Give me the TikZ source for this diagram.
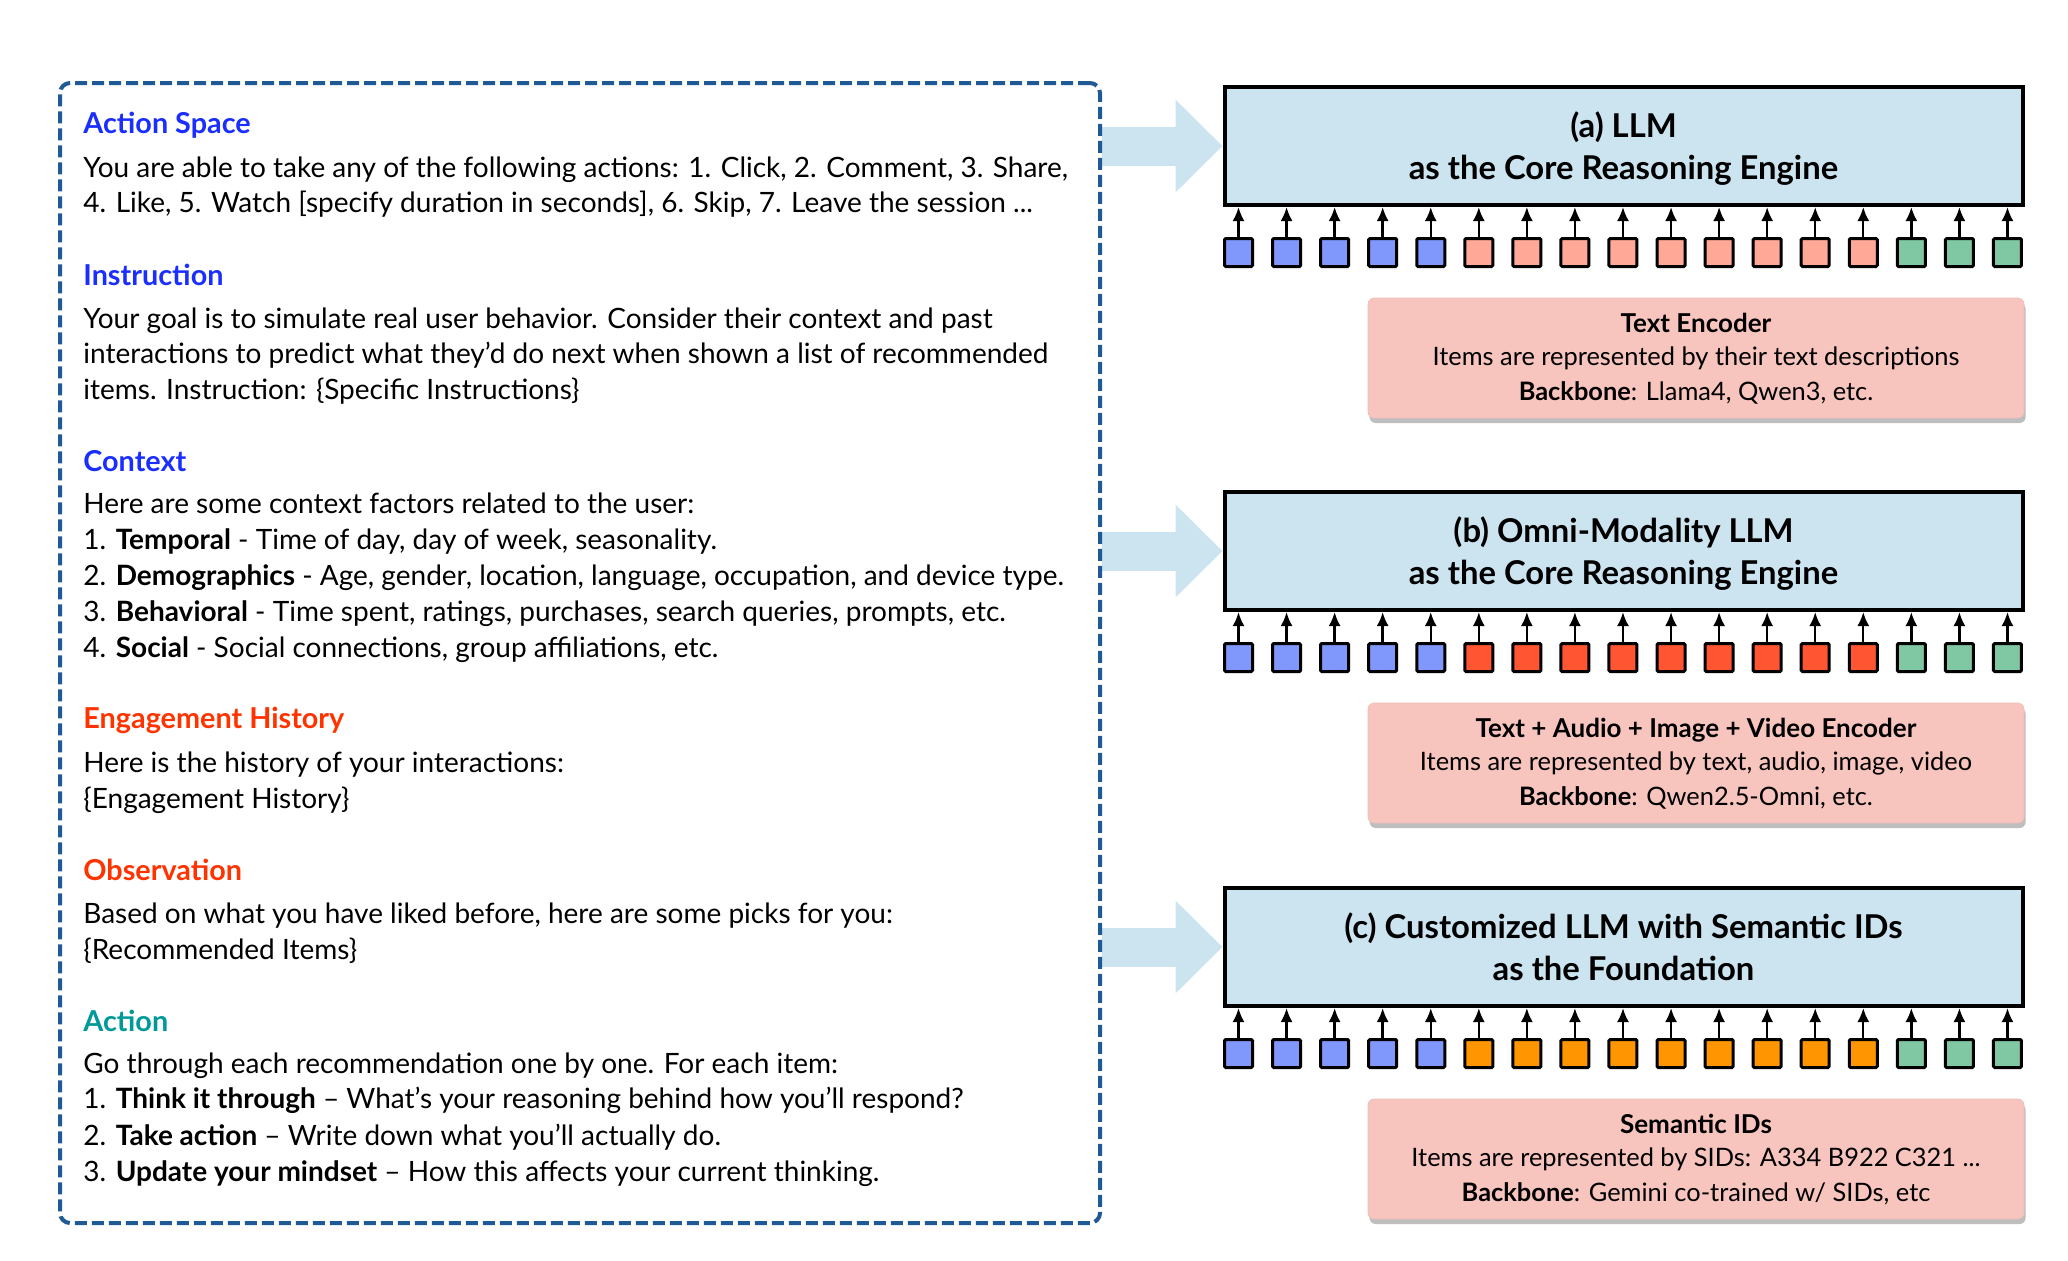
\documentclass[tikz,border=0pt]{standalone}
\usepackage{fontspec}
\setmainfont{Lato}
\usetikzlibrary{arrows.meta,shadows}
\definecolor{hblue}{HTML}{1A2EFF}
\definecolor{hred}{HTML}{FF3300}
\definecolor{hteal}{HTML}{00999A}
\definecolor{dashblue}{HTML}{1F5A96}
\definecolor{llmfill}{HTML}{CCE3F0}
\definecolor{encfill}{HTML}{F7C4BE}
\definecolor{tokblue}{HTML}{8097FC}
\definecolor{toksalmon}{HTML}{FFA898}
\definecolor{tokred}{HTML}{FF5533}
\definecolor{tokorange}{HTML}{FF9500}
\definecolor{tokgreen}{HTML}{80C8A4}
\pgfdeclarelayer{bg}
\pgfsetlayers{bg,main}
\tikzset{
  body/.style={anchor=base west, inner sep=0pt, font=\fontsize{14pt}{16pt}\selectfont},
  head/.style={body, font=\fontsize{14.4pt}{16pt}\selectfont\bfseries},
  promptbox/.style={draw=dashblue, line width=2pt, dash pattern=on 6pt off 2.5pt, rounded corners=5pt, minimum width=520pt, minimum height=570pt, inner sep=0pt},
  llmbox/.style={draw=black, line width=2pt, fill=llmfill, minimum width=399pt, minimum height=59pt, inner sep=0pt},
  llmtitle/.style={anchor=base, inner sep=0pt, font=\fontsize{16.4pt}{18pt}\selectfont\bfseries},
  encbox/.style={fill=encfill, draw=encfill!90!gray, line width=0.3pt, rounded corners=3pt, minimum width=328pt, minimum height=60pt, inner sep=0pt,
     drop shadow={shadow xshift=0.8pt, shadow yshift=-2.5pt, opacity=0.6, fill=gray!85}},
  enctext/.style={anchor=base, inner sep=0pt, font=\fontsize{12.7pt}{14pt}\selectfont},
  enchead/.style={enctext, font=\fontsize{13pt}{14pt}\selectfont\bfseries},
  tok/.style={draw=black, line width=1.5pt, minimum size=14pt, inner sep=0pt, rounded corners=0.6pt},
  tokarrow/.style={draw=black, line width=1.2pt, -{Latex[length=7pt,width=6pt]}},
  bigarrow/.style={draw=llmfill, line width=19.5pt, -{Triangle[length=23.5pt,width=45pt]}},
}
\begin{document}
\begin{tikzpicture}[x=0.5pt,y=-0.5pt]
\useasboundingbox (0,0) rectangle (2068,1260);

% ---------- prompt box ----------
\node[promptbox] (prompt) at (580,653) {};

\node[head, text=hblue] (h1) at (83,133) {Action Space};
\node[body] (l11) at (83,177) {You are able to take any of the following actions: 1. Click, 2. Comment, 3. Share,};
\node[body] (l12) at (83,212) {4. Like, 5. Watch [specify duration in seconds], 6. Skip, 7. Leave the session ...};

\node[head, text=hblue] (h2) at (83,285) {Instruction};
\node[body] (l21) at (83,328) {Your goal is to simulate real user behavior. Consider their context and past};
\node[body] (l22) at (83,363) {interactions to predict what they'd do next when shown a list of recommended};
\node[body] (l23) at (83,399) {items. Instruction: \{Specific Instructions\}};

\node[head, text=hblue] (h3) at (83,471) {Context};
\node[body] (l31) at (83,513) {Here are some context factors related to the user:};
\node[body] (l32) at (83,549) {1. \textbf{Temporal} - Time of day, day of week, seasonality.};
\node[body] (l33) at (83,585) {2. \textbf{Demographics} - Age, gender, location, language, occupation, and device type.};
\node[body] (l34) at (83,621) {3. \textbf{Behavioral} - Time spent, ratings, purchases, search queries, prompts, etc.};
\node[body] (l35) at (83,657) {4. \textbf{Social} - Social connections, group affiliations, etc.};

\node[head, text=hred] (h4) at (83,728) {Engagement History};
\node[body] (l41) at (83,772) {Here is the history of your interactions:};
\node[body] (l42) at (83,808) {\{Engagement History\}};

\node[head, text=hred] (h5) at (83,880) {Observation};
\node[body] (l51) at (83,923) {Based on what you have liked before, here are some picks for you:};
\node[body] (l52) at (83,959) {\{Recommended Items\}};

\node[head, text=hteal] (h6) at (83,1031) {Action};
\node[body] (l61) at (83,1073) {Go through each recommendation one by one. For each item:};
\node[body] (l62) at (83,1108) {1. \textbf{Think it through} -- What's your reasoning behind how you'll respond?};
\node[body] (l63) at (83,1145) {2. \textbf{Take action} -- Write down what you'll actually do.};
\node[body] (l64) at (83,1181) {3. \textbf{Update your mindset} -- How this affects your current thinking.};

% ---------- right side ----------
\foreach \n/\top/\mid/\ta/\tb/\e/\ea/\eb/\ec in {
  a/86/toksalmon/(a) LLM/as the Core Reasoning Engine/{Text Encoder}/{Items are represented by their text descriptions}/{Llama4, Qwen3, etc.}/x,
  b/491/tokred/(b) Omni-Modality LLM/as the Core Reasoning Engine/{Text + Audio + Image + Video Encoder}/{Items are represented by text, audio, image, video}/{Qwen2.5-Omni, etc.}/x,
  c/887/tokorange/(c) Customized LLM with Semantic IDs/as the Foundation/{Semantic IDs}/{Items are represented by SIDs: A334 B922 C321 ...}/{Gemini co-trained w/ SIDs, etc}/x}{
  \node[llmbox] (\n) at (1623.5,\top+60) {};
  \node[llmtitle] (\n-t1) at (1623.5,\top+51) {\ta};
  \node[llmtitle] (\n-t2) at (1623.5,\top+93) {\tb};
  \foreach \i in {0,...,16}{
    \ifnum\i<5 \def\tc{tokblue}\else\ifnum\i<14 \def\tc{\mid}\else\def\tc{tokgreen}\fi\fi
    \node[tok, fill=\tc] (\n-k\i) at (1238.5+48.06*\i,\top+166.5) {};
    \draw[tokarrow] (\n-k\i.north) -- (\n-k\i.north |- \n.south);
  }
  \node[encbox] (\n-enc) at (1696,\top+272) {};
  \node[enchead] (\n-e1) at (1696,\top+246) {\e};
  \node[enctext] (\n-e2) at (1696,\top+279) {\ea};
  \node[enctext] (\n-e3) at (1696,\top+314) {\textbf{Backbone}: \eb};
  \begin{pgfonlayer}{bg}
    \draw[bigarrow] (prompt.east |- \n.west) -- (\n.west);
  \end{pgfonlayer}
}
\end{tikzpicture}
\end{document}
